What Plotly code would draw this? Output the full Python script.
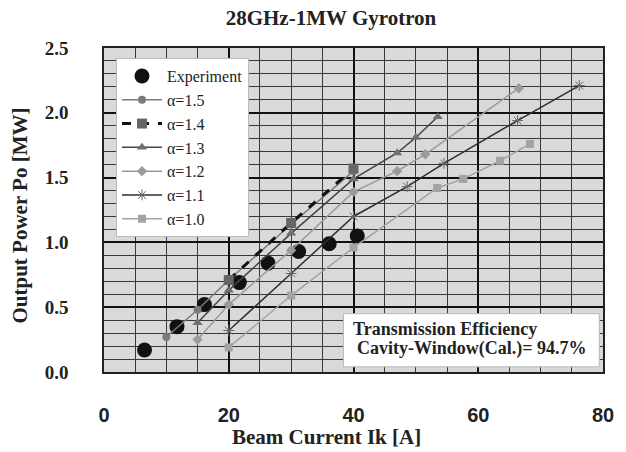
import plotly.graph_objects as go

exp_x = [6.5, 11.7, 16.1, 21.7, 26.3, 31.2, 36.1, 40.6]
exp_y = [0.17, 0.35, 0.52, 0.69, 0.84, 0.93, 0.99, 1.05]

a15_x = [10, 15, 20, 30, 40]
a15_y = [0.27, 0.48, 0.71, 1.14, 1.55]

a14_x = [20, 30, 40]
a14_y = [0.71, 1.15, 1.57]

a13_x = [15, 20, 30, 40, 47, 50, 53.5]
a13_y = [0.38, 0.63, 1.07, 1.49, 1.69, 1.81, 1.97]

a12_x = [15, 20, 30, 40, 47, 51.5, 66.5]
a12_y = [0.25, 0.52, 0.94, 1.39, 1.55, 1.68, 2.19]

a11_x = [20, 30, 40, 48.6, 54.5, 66.3, 76.2]
a11_y = [0.32, 0.76, 1.20, 1.43, 1.61, 1.94, 2.21]

a10_x = [20, 30, 40, 53.4, 57.6, 63.5, 68.3]
a10_y = [0.19, 0.59, 0.96, 1.42, 1.49, 1.63, 1.76]

serif = "Liberation Serif, Times New Roman, serif"
sans = "Liberation Sans, Arial, sans-serif"

fig = go.Figure()
fig.add_trace(go.Scatter(x=exp_x, y=exp_y, mode="markers", name="Experiment",
                         marker=dict(symbol="circle", size=15, color="#111111")))
fig.add_trace(go.Scatter(x=a15_x, y=a15_y, mode="lines+markers", name="α=1.5",
                         line=dict(color="#7a7a7a", width=1.5),
                         marker=dict(symbol="circle", size=8, color="#7a7a7a")))
fig.add_trace(go.Scatter(x=a14_x, y=a14_y, mode="lines+markers", name="α=1.4",
                         line=dict(color="#111111", width=3, dash="dash"),
                         marker=dict(symbol="square", size=10, color="#666666")))
fig.add_trace(go.Scatter(x=a13_x, y=a13_y, mode="lines+markers", name="α=1.3",
                         line=dict(color="#444444", width=1.5),
                         marker=dict(symbol="triangle-up", size=9, color="#707070")))
fig.add_trace(go.Scatter(x=a12_x, y=a12_y, mode="lines+markers", name="α=1.2",
                         line=dict(color="#9a9a9a", width=1.5),
                         marker=dict(symbol="diamond", size=8, color="#9a9a9a")))
fig.add_trace(go.Scatter(x=a11_x, y=a11_y, mode="lines+markers", name="α=1.1",
                         line=dict(color="#2e2e2e", width=1.5),
                         marker=dict(symbol="asterisk-open", size=9, color="#666666",
                                     line=dict(color="#666666", width=1))))
fig.add_trace(go.Scatter(x=a10_x, y=a10_y, mode="lines+markers", name="α=1.0",
                         line=dict(color="#a3a3a3", width=1.5),
                         marker=dict(symbol="square", size=8, color="#a3a3a3")))

fig.add_shape(type="rect", xref="x", yref="y", x0=38.4, x1=79.4, y0=0.04, y1=0.45,
              fillcolor="white", line=dict(color="#bbbbbb", width=1), layer="above")
fig.add_annotation(x=39.6, y=0.335, xref="x", yref="y", xanchor="left", showarrow=False,
                   text="<b>Transmission Efficiency</b>",
                   font=dict(family=serif, size=18, color="#222"))
fig.add_annotation(x=40.2, y=0.18, xref="x", yref="y", xanchor="left", showarrow=False,
                   text="<b>Cavity-Window(Cal.)= 94.7%</b>",
                   font=dict(family=serif, size=18, color="#222"))

# axis titles positioned in pixel terms relative to plot area (104..612, 48..372)
fig.add_annotation(x=(331 - 104) / 508, y=-(437 - 372) / 324, xref="paper", yref="paper",
                   xanchor="center", yanchor="middle", showarrow=False,
                   text="<b>Beam Current Ik [A]</b>",
                   font=dict(family=serif, size=21, color="#222"))
fig.add_annotation(x=-(104 - 18) / 508, y=(372 - 216) / 324, xref="paper", yref="paper",
                   xanchor="center", yanchor="middle", showarrow=False, textangle=-90,
                   text="<b>Output Power Po [MW]</b>",
                   font=dict(family=serif, size=21, color="#222"))

fig.update_layout(
    width=626, height=452,
    margin=dict(l=104, r=14, t=48, b=80),
    paper_bgcolor="white", plot_bgcolor="#d9d9d9",
    title=dict(text="<b>28GHz-1MW Gyrotron</b>", x=331 / 626, xanchor="center",
               y=1 - 18 / 452, yanchor="middle",
               font=dict(family=serif, size=21, color="#222")),
    showlegend=True,
    legend=dict(x=0.024, y=0.969, xanchor="left", yanchor="top",
                bgcolor="white", bordercolor="#bbbbbb", borderwidth=1,
                font=dict(family=serif, size=16, color="#222"),
                tracegroupgap=0, itemwidth=40),
    xaxis=dict(range=[0, 80], dtick=20, tick0=0, showgrid=True, gridcolor="#111111",
               gridwidth=1.5, zeroline=False, showline=True, linecolor="#222",
               linewidth=1.5, mirror=True, ticks="", ticklabelstandoff=24,
               tickfont=dict(family=sans, size=20, color="#222", weight="bold"),
               minor=dict(dtick=5, showgrid=True, gridcolor="#383838", gridwidth=1)),
    yaxis=dict(range=[0, 2.5], dtick=0.5, tick0=0, tickformat=".1f", showgrid=True,
               gridcolor="#111111", gridwidth=1.5, zeroline=False, showline=True,
               linecolor="#222", linewidth=1.5, mirror=True, ticks="",
               ticklabelstandoff=30,
               tickfont=dict(family=serif, size=19, color="#222", weight="bold"),
               minor=dict(dtick=0.1, showgrid=True, gridcolor="#383838", gridwidth=1)),
)

fig.write_html("out.html")
